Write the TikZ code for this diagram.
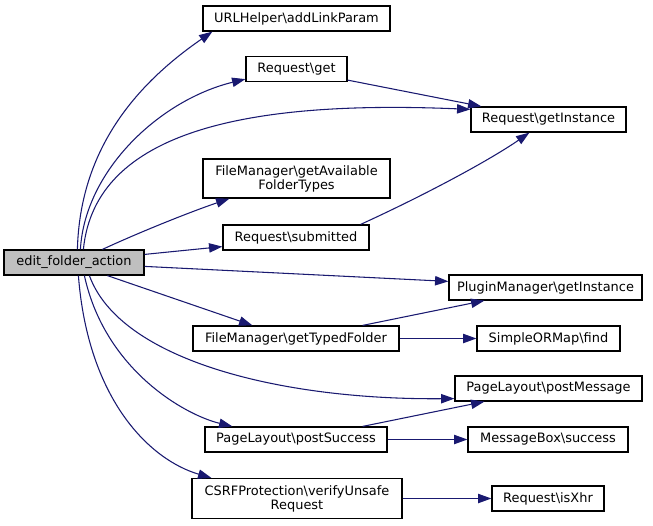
\documentclass[tikz,border=0pt]{standalone}
\usepackage{fontspec}
\setmainfont{DejaVu Sans}
\usetikzlibrary{arrows.meta,calc}
\definecolor{edgeblue}{HTML}{191970}
\definecolor{rootgrey}{HTML}{BFBFBF}
\tikzset{>={Triangle[length=10pt,width=7pt]}}
\tikzset{fn/.style={draw=black, line width=0.9pt, fill=white, inner xsep=2pt, inner ysep=1pt,
    minimum height=18.75pt, align=center, font=\fontsize{9.7pt}{10.5pt}\selectfont},
  root/.style={fn, fill=rootgrey},
  call/.style={->, draw=edgeblue, line width=0.8pt}}

\begin{document}
\begin{tikzpicture}[x=0.75pt, y=-0.75pt]
        \useasboundingbox (0,0) rectangle (653,525);
        \node[root, minimum width=105pt] (edit) at (74,262.5) {edit\_folder\_action};
        \node[fn, minimum width=140.25pt] (url) at (296.5,18.5) {URLHelper\textbackslash addLinkParam};
        \node[fn, minimum width=75.75pt] (get) at (296.5,69) {Request\textbackslash get};
        \node[fn, minimum width=116.25pt] (getinst) at (548.5,119.5) {Request\textbackslash getInstance};
        \node[fn, minimum width=140.25pt, minimum height=29.25pt] (avail) at (296.5,178.5) {FileManager\textbackslash getAvailable\\FolderTypes};
        \node[fn, minimum width=109.5pt] (submitted) at (296,237.5) {Request\textbackslash submitted};
        \node[fn, minimum width=144.75pt] (plugin) at (545.5,287.5) {PluginManager\textbackslash getInstance};
        \node[fn, minimum width=154.5pt] (typed) at (296,338.5) {FileManager\textbackslash getTypedFolder};
        \node[fn, minimum width=107.25pt] (find) at (548.5,338.5) {SimpleORMap\textbackslash find};
        \node[fn, minimum width=140.25pt] (postmsg) at (548.5,388.5) {PageLayout\textbackslash postMessage};
        \node[fn, minimum width=136.5pt] (postok) at (296,439.5) {PageLayout\textbackslash postSuccess};
        \node[fn, minimum width=120pt] (msgbox) at (548,439.5) {MessageBox\textbackslash success};
        \node[fn, minimum width=157.5pt, minimum height=30pt] (csrf) at (297,498.5) {CSRFProtection\textbackslash verifyUnsafe\\Request};
        \node[fn, minimum width=84pt] (isxhr) at (548,498.5) {Request\textbackslash isXhr};
        % calls from the root
        \draw[call] ($(edit.north west)+(74,0)$) .. controls (80,150) and (135,85) .. ($(url.south west)+(10,0)$);
        \draw[call] ($(edit.north west)+(77,0)$) .. controls (85,170) and (160,100) .. ($(get.south west)+(0,-3)$);
        \draw[call] ($(edit.north west)+(80,0)$) .. controls (95,130) and (250,100) .. ($(getinst.north west)+(0,3)$);
        \draw[call] ($(edit.north west)+(99,0)$) .. controls (140,232) and (190,212) .. ($(avail.south west)+(27,0)$);
        \draw[call] ($(edit.north east)+(0,5)$) -- ($(submitted.south west)+(0,-4)$);
        \draw[call] ($(edit.north east)+(0,17)$) -- ($(plugin.north west)+(0,7)$);
        \draw[call] ($(edit.south west)+(104,0)$) -- ($(typed.north west)+(60,0)$);
        \draw[call] ($(edit.south west)+(86,0)$) .. controls (120,360) and (280,400) .. ($(postmsg.south west)+(0,-3)$);
        \draw[call] ($(edit.south west)+(81,0)$) .. controls (105,370) and (185,415) .. ($(postok.north west)+(28,0)$);
        \draw[call] ($(edit.south west)+(75,0)$) .. controls (88,400) and (150,460) .. ($(csrf.north west)+(20,0)$);
        % further calls
        \draw[call] ($(get.south east)+(0,-2)$) -- ($(getinst.north west)+(11,0)$);
        \draw[call] ($(submitted.north east)+(-9,0)$) .. controls (425,195) and (490,160) .. ($(getinst.south west)+(59,0)$);
        \draw[call] ($(typed.north east)+(-37,0)$) -- ($(plugin.south west)+(36,0)$);
        \draw[call] (typed) -- (find);
        \draw[call] ($(postok.north east)+(-25,0)$) -- ($(postmsg.south west)+(30,0)$);
        \draw[call] (postok) -- (msgbox);
        \draw[call] (csrf) -- (isxhr);
    \end{tikzpicture}
\end{document}
